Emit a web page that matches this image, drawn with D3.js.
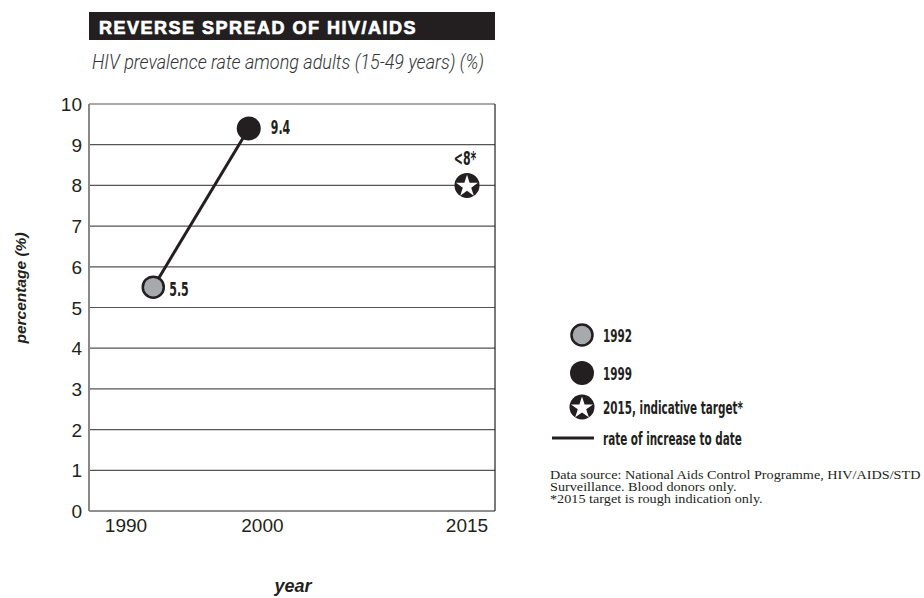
<!DOCTYPE html>
<html>
<head>
<meta charset="utf-8">
<script src="https://cdn.jsdelivr.net/npm/d3@7"></script>
<style>
  body { margin: 0; background: white; }
</style>
</head>
<body>
<script>
// data
let years = [1992, 1999, 2015]
let values = [5.5, 9.4, 8]
let labels = ["5.5", "9.4", "<8*"]
let yTicks = [0, 1, 2, 3, 4, 5, 6, 7, 8, 9, 10]
let xTicks = [1990, 2000, 2015]
let legendItems = ["1992", "1999", "2015, indicative target*", "rate of increase to date"]
let sourceLines = ["Data source: National Aids Control Programme, HIV/AIDS/STD",
                   "Surveillance. Blood donors only.",
                   "*2015 target is rough indication only."]

let ink = "#231f20"
let narrow = "'Liberation Sans Narrow', 'DejaVu Sans Condensed', sans-serif"

let svg = d3.select("body")
  .append("svg")
    .attr("width", 924)
    .attr("height", 598)

let x = d3.scaleLinear().domain([1990, 2015]).range([126, 467])
let y = d3.scaleLinear().domain([0, 10]).range([511, 104])
let left = 89, right = 495

// work out how much to squeeze the bold face so it looks condensed
let probe = svg.append("text")
    .attr("font-family", narrow).attr("font-weight", "bold").attr("font-size", 18)
    .text(legendItems[2])
let squeeze = 140 / probe.node().getComputedTextLength()
probe.remove()

function condText(g, tx, ty, str, size, anchor) {
  return g.append("text")
      .attr("transform", `translate(${tx},${ty}) scale(${squeeze},1)`)
      .attr("text-anchor", anchor || "start")
      .attr("font-family", narrow)
      .attr("font-weight", "bold")
      .attr("font-size", size)
      .attr("fill", ink)
      .text(str)
}

// title bar
svg.append("rect")
    .attr("x", 89).attr("y", 12)
    .attr("width", 406).attr("height", 28)
    .attr("fill", ink)
svg.append("text")
    .attr("x", 99).attr("y", 34)
    .attr("fill", "white")
    .attr("stroke", "white")
    .attr("stroke-width", 0.7)
    .attr("font-family", "'Liberation Sans', Arial, sans-serif")
    .attr("font-weight", "bold")
    .attr("font-size", 18)
    .attr("letter-spacing", 1.5)
    .text("REVERSE SPREAD OF HIV/AIDS")

svg.append("text")
    .attr("x", 92).attr("y", 69)
    .attr("fill", "#333")
    .attr("font-family", "Roboto, sans-serif")
    .attr("font-style", "italic")
    .attr("font-weight", 300)
    .attr("font-size", 20)
    .attr("textLength", 392)
    .attr("lengthAdjust", "spacingAndGlyphs")
    .text("HIV prevalence rate among adults (15-49 years) (%)")

// gridlines
svg.append("g")
  .selectAll("line")
  .data(yTicks)
  .join("line")
    .attr("x1", left).attr("x2", right)
    .attr("y1", d => y(d)).attr("y2", d => y(d))
    .attr("stroke", d => d == 0 ? ink : "#555")
    .attr("stroke-width", 1.2)

svg.append("line")
    .attr("x1", left).attr("x2", left)
    .attr("y1", y(10)).attr("y2", y(0))
    .attr("stroke", "#888").attr("stroke-width", 2)
svg.append("line")
    .attr("x1", right).attr("x2", right)
    .attr("y1", y(10)).attr("y2", y(0))
    .attr("stroke", ink).attr("stroke-width", 1.2)

// axis labels
svg.append("g")
  .selectAll("text")
  .data(yTicks)
  .join("text")
    .attr("x", 82)
    .attr("y", d => y(d) + 7)
    .attr("text-anchor", "end")
    .attr("font-family", "'Liberation Sans', Arial, sans-serif")
    .attr("font-size", 19)
    .attr("fill", ink)
    .text(d => d)

svg.append("g")
  .selectAll("text")
  .data(xTicks)
  .join("text")
    .attr("x", d => x(d))
    .attr("y", 532)
    .attr("text-anchor", "middle")
    .attr("font-family", "'Liberation Sans', Arial, sans-serif")
    .attr("font-size", 19)
    .attr("fill", ink)
    .text(d => d)

svg.append("text")
    .attr("transform", "translate(26, 288) rotate(-90)")
    .attr("text-anchor", "middle")
    .attr("font-family", "'Liberation Sans', Arial, sans-serif")
    .attr("font-weight", "bold")
    .attr("font-style", "italic")
    .attr("font-size", 15.5)
    .attr("fill", ink)
    .text("percentage (%)")

svg.append("text")
    .attr("x", 293).attr("y", 592)
    .attr("text-anchor", "middle")
    .attr("font-family", "'Liberation Sans', Arial, sans-serif")
    .attr("font-weight", "bold")
    .attr("font-style", "italic")
    .attr("font-size", 18)
    .attr("fill", ink)
    .text("year")

// rate line
svg.append("path")
    .datum([0, 1])
    .attr("d", d3.line().x(i => x(years[i])).y(i => y(values[i])))
    .attr("stroke", ink)
    .attr("stroke-width", 3)
    .attr("fill", "none")

let star = d3.symbol().type(d3.symbolStar).size(150)

function marker(g, kind, cx, cy) {
  if (kind == 0) {
    g.append("circle").attr("cx", cx).attr("cy", cy).attr("r", 10.5)
      .attr("fill", "#a7a9ac").attr("stroke", ink).attr("stroke-width", 2.5)
  } else if (kind == 1) {
    g.append("circle").attr("cx", cx).attr("cy", cy).attr("r", 12)
      .attr("fill", ink)
  } else {
    g.append("circle").attr("cx", cx).attr("cy", cy).attr("r", 12.5)
      .attr("fill", ink)
    g.append("path").attr("d", star)
      .attr("transform", `translate(${cx},${cy + 1})`)
      .attr("fill", "white")
  }
}

let pts = svg.append("g")
for (let i = 0; i < years.length; i++) {
  marker(pts, i, x(years[i]), y(values[i]))
}

// value labels
let labelDx = [16, 22, -2]
let labelDy = [9, 6, -20]
for (let i = 0; i < labels.length; i++) {
  condText(svg, x(years[i]) + labelDx[i], y(values[i]) + labelDy[i], labels[i], 19, i == 2 ? "middle" : "start")
}

// legend
let lg = svg.append("g")
let legY = [335, 373, 407, 438]
for (let i = 0; i < legendItems.length; i++) {
  if (i < 3) {
    marker(lg, i, 582, legY[i])
  } else {
    lg.append("line").attr("x1", 552).attr("x2", 594)
      .attr("y1", legY[i]).attr("y2", legY[i])
      .attr("stroke", ink).attr("stroke-width", 3)
  }
  condText(lg, 603, legY[i] + 7, legendItems[i], 18)
}

// source note, stretched so the first line ends at the right edge
let note = svg.append("g")
  .selectAll("text")
  .data(sourceLines)
  .join("text")
    .attr("y", (d, i) => 479 + i * 11.8)
    .attr("font-family", "'Liberation Serif', 'Times New Roman', serif")
    .attr("font-size", 12)
    .attr("fill", ink)
    .text(d => d)
let w0 = note.node().getComputedTextLength()
note.attr("transform", `translate(550,0) scale(${371 / w0},1)`)
</script>
</body>
</html>
